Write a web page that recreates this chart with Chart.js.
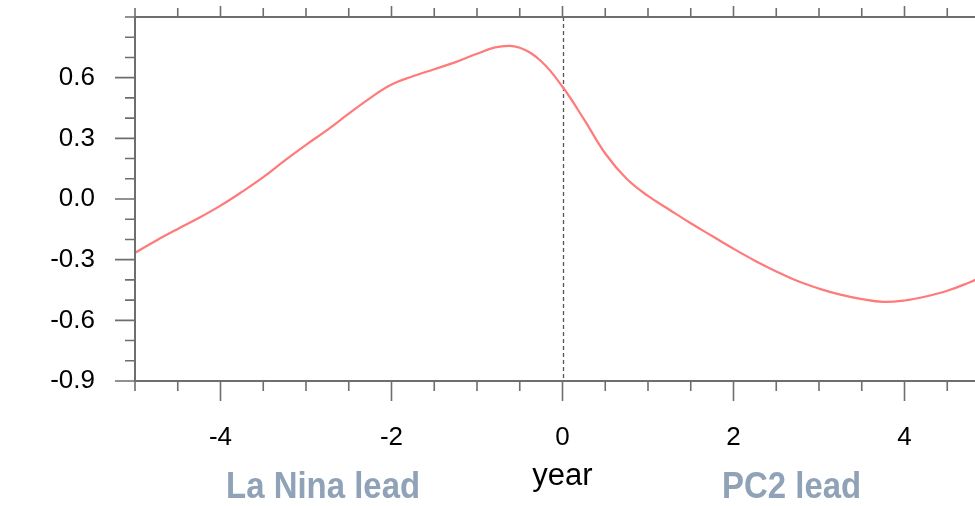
<!DOCTYPE html>
<html><head><meta charset="utf-8">
<script src="https://cdn.jsdelivr.net/npm/chart.js@4.4.0/dist/chart.umd.min.js"></script>
<style>html,body{margin:0;padding:0;background:#fff;overflow:hidden;width:975px;height:506px}canvas{display:block}</style>
</head><body>
<canvas id="c" width="1010" height="506" style="width:1010px;height:506px"></canvas>
<script>
// lag in years (negative: La Nina leads, positive: PC2 leads)
const lags = [-5,-4.75,-4.5,-4.25,-4,-3.75,-3.5,-3.25,-3,-2.75,-2.5,-2.25,-2,-1.75,-1.5,-1.25,-1,-0.75,-0.5,-0.25,0,0.25,0.5,0.75,1,1.25,1.5,1.75,2,2.25,2.5,2.75,3,3.25,3.5,3.75,4,4.25,4.5,4.75,5];
const corr = [-0.266,-0.205,-0.148,-0.093,-0.033,0.035,0.108,0.19,0.268,0.342,0.422,0.499,0.566,0.607,0.642,0.677,0.718,0.752,0.748,0.681,0.555,0.395,0.225,0.1,0.015,-0.053,-0.12,-0.183,-0.246,-0.305,-0.358,-0.406,-0.443,-0.473,-0.495,-0.509,-0.502,-0.482,-0.454,-0.414,-0.37];

const xMajorTicks = [-4,-2,0,2,4];
const xMinorTicks = [-5,-4.5,-3.5,-3,-2.5,-1.5,-1,-0.5,0.5,1,1.5,2.5,3,3.5,4.5,5];
const yMajorTicks = [-0.9,-0.6,-0.3,0,0.3,0.6];
const yMinorTicks = [-0.8,-0.7,-0.5,-0.4,-0.2,-0.1,0.1,0.2,0.4,0.5,0.7,0.8,0.9];
const xTitle = 'year';
const leadLabels = ['La Nina lead','PC2 lead'];
const leadLabelAt = [-2.8, 2.68];

const AXIS = '#6e6e6e';
const FONT = '"Liberation Sans", Arial, Helvetica, sans-serif';

const framePlugin = {
  id: 'frame',
  beforeDatasetsDraw(chart) {
    const {ctx, chartArea:{top,bottom}, scales:{x}} = chart;
    ctx.save();
    ctx.strokeStyle = '#555';
    ctx.lineWidth = 1.3;
    ctx.setLineDash([4,3]);
    const px = Math.round(x.getPixelForValue(0)) + 0.5;
    ctx.beginPath(); ctx.moveTo(px, top); ctx.lineTo(px, bottom); ctx.stroke();
    ctx.restore();
  },
  afterDraw(chart) {
    const {ctx, chartArea:{left,right,top,bottom}, scales:{x,y}} = chart;
    ctx.save();
    ctx.strokeStyle = AXIS;
    ctx.lineWidth = 2;
    ctx.strokeRect(left, top, right-left, bottom-top);
    ctx.lineWidth = 1.6;
    ctx.beginPath();
    xMajorTicks.forEach(v => { const p = x.getPixelForValue(v);
      ctx.moveTo(p, bottom); ctx.lineTo(p, bottom+20);
      ctx.moveTo(p, top); ctx.lineTo(p, top-11); });
    xMinorTicks.forEach(v => { const p = x.getPixelForValue(v);
      ctx.moveTo(p, bottom); ctx.lineTo(p, bottom+10);
      ctx.moveTo(p, top); ctx.lineTo(p, top-9); });
    yMajorTicks.forEach(v => { const p = y.getPixelForValue(v);
      ctx.moveTo(left, p); ctx.lineTo(left-20, p);
      ctx.moveTo(right, p); ctx.lineTo(right+20, p); });
    yMinorTicks.forEach(v => { const p = y.getPixelForValue(v);
      ctx.moveTo(left, p); ctx.lineTo(left-10, p);
      ctx.moveTo(right, p); ctx.lineTo(right+10, p); });
    ctx.stroke();

    // x title
    ctx.fillStyle = '#000';
    ctx.font = '31px ' + FONT;
    ctx.textAlign = 'center';
    ctx.textBaseline = 'alphabetic';
    ctx.fillText(xTitle, x.getPixelForValue(0), 485);

    // lead labels (bold, condensed)
    ctx.fillStyle = 'rgb(143,162,183)';
    ctx.font = 'bold 37px ' + FONT;
    leadLabels.forEach((t, i) => {
      const cx = x.getPixelForValue(leadLabelAt[i]);
      ctx.save();
      ctx.translate(cx, 498);
      ctx.scale(0.89, 1);
      ctx.fillText(t, 0, 0);
      ctx.restore();
    });
    ctx.restore();
  }
};

new Chart(document.getElementById('c'), {
  type: 'line',
  data: {
    datasets: [{
      data: lags.map((v, i) => ({x: v, y: corr[i]})),
      borderColor: 'rgb(255,122,122)',
      borderWidth: 2.2,
      pointRadius: 0,
      tension: 0.4,
      fill: false
    }]
  },
  options: {
    responsive: false,
    animation: false,
    layout: {padding: {top: 17, right: 20, left: 0, bottom: 0}},
    plugins: {legend: {display: false}, tooltip: {enabled: false}},
    scales: {
      x: {
        type: 'linear', min: -5, max: 5,
        afterBuildTicks: s => { s.ticks = xMajorTicks.map(v => ({value: v})); },
        afterFit: s => { s.height = 125; s.paddingLeft = 0; s.paddingRight = 0; },
        grid: {display: false, drawTicks: false, tickLength: 0},
        border: {display: false},
        ticks: {autoSkip: false, maxRotation: 0, padding: 41, color: '#000',
                font: {family: FONT, size: 26}, callback: v => String(v)}
      },
      y: {
        type: 'linear', min: -0.9, max: 0.9,
        afterBuildTicks: s => { s.ticks = yMajorTicks.map(v => ({value: v})); },
        afterFit: s => { s.width = 135; s.paddingTop = 0; s.paddingBottom = 0; },
        grid: {display: false, drawTicks: false, tickLength: 0},
        border: {display: false},
        ticks: {autoSkip: false, padding: 40, color: '#000',
                font: {family: FONT, size: 26}, callback: v => v.toFixed(1)}
      }
    }
  },
  plugins: [framePlugin]
});
</script>
</body></html>
